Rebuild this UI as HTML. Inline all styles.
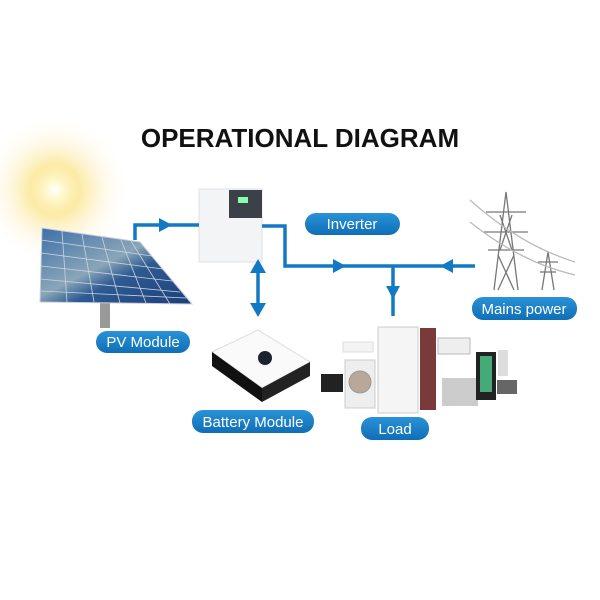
<!DOCTYPE html>
<html><head><meta charset="utf-8"><style>
html,body{margin:0;padding:0;background:#fff;width:600px;height:600px;overflow:hidden}
svg{display:block}
</style></head><body>
<svg width="600" height="600" viewBox="0 0 600 600" xmlns="http://www.w3.org/2000/svg">
<defs>
<radialGradient id="sun" cx="0.5" cy="0.5" r="0.5">
<stop offset="0" stop-color="#fff"/><stop offset="0.12" stop-color="#fff8d0"/>
<stop offset="0.35" stop-color="#fbe486" stop-opacity="0.75"/><stop offset="0.7" stop-color="#fdefc4" stop-opacity="0.35"/><stop offset="1" stop-color="#fff8e6" stop-opacity="0"/></radialGradient>
<linearGradient id="pill" x1="0" y1="0" x2="0" y2="1"><stop offset="0" stop-color="#2a92d8"/><stop offset="1" stop-color="#0f6fb6"/></linearGradient>
<linearGradient id="panel" x1="0" y1="0" x2="1" y2="1"><stop offset="0" stop-color="#3d6fa8"/><stop offset="0.45" stop-color="#8aa6b8"/><stop offset="0.6" stop-color="#2e5a92"/><stop offset="1" stop-color="#1d3f78"/></linearGradient>
</defs>
<rect width="600" height="600" fill="#fff"/>
<circle cx="55" cy="190" r="72" fill="url(#sun)"/>
<text x="300" y="147" text-anchor="middle" font-family="Liberation Sans, sans-serif" font-weight="bold" font-size="26" fill="#111">OPERATIONAL DIAGRAM</text>
<!-- solar panel -->
<rect x="100" y="300" width="10" height="28" fill="#999"/>
<polygon points="42,228 140,242 192,304 40,302" fill="url(#panel)" stroke="#ccd" stroke-width="1"/>
<g stroke="#c8d4e0" stroke-width="0.8" fill="none">
<line x1="41" y1="240" x2="152" y2="256"/><line x1="41" y1="253" x2="163" y2="269"/><line x1="41" y1="266" x2="172" y2="281"/><line x1="40" y1="279" x2="180" y2="292"/><line x1="40" y1="291" x2="186" y2="298"/>
<line x1="62" y1="231" x2="67" y2="302"/><line x1="82" y1="234" x2="94" y2="302"/><line x1="102" y1="237" x2="120" y2="303"/><line x1="121" y1="240" x2="146" y2="303"/><line x1="131" y1="241" x2="170" y2="304"/>
</g>
<!-- inverter -->
<rect x="199" y="189" width="63" height="73" fill="#f3f4f6" stroke="#dfe1e4"/>
<rect x="229" y="190" width="33" height="28" fill="#3c4048"/>
<rect x="238" y="197" width="10" height="6" fill="#8fa"/>
<!-- battery -->
<polygon points="212,352 258,330 310,362 262,388" fill="#fafafa" stroke="#ddd"/>
<polygon points="212,352 262,388 262,402 212,366" fill="#111"/>
<polygon points="262,388 310,362 310,376 262,402" fill="#222"/>
<circle cx="265" cy="358" r="7" fill="#1c2230"/>
<!-- load appliances -->
<rect x="321" y="374" width="22" height="18" fill="#222"/>
<rect x="345" y="360" width="30" height="48" fill="#eee" stroke="#ccc"/>
<circle cx="360" cy="382" r="11" fill="#b9a89a" stroke="#999"/>
<rect x="343" y="342" width="30" height="10" fill="#f4f4f4" stroke="#ddd"/>
<rect x="378" y="327" width="40" height="86" fill="#f5f5f5" stroke="#ccc"/>
<rect x="420" y="328" width="16" height="82" fill="#7a3a3a"/>
<rect x="438" y="338" width="32" height="16" fill="#eee" stroke="#bbb"/>
<rect x="442" y="378" width="36" height="28" fill="#ccc"/>
<rect x="476" y="352" width="20" height="48" fill="#222"/>
<rect x="480" y="356" width="12" height="36" fill="#4a7"/>
<rect x="498" y="350" width="10" height="26" fill="#ddd"/>
<rect x="497" y="380" width="20" height="14" fill="#666"/>
<!-- tower -->
<g stroke="#777" stroke-width="1.3" fill="none">
<polyline points="494,290 506,192 518,290"/><line x1="486" y1="212" x2="526" y2="212"/><line x1="484" y1="232" x2="528" y2="232"/><line x1="488" y1="250" x2="524" y2="250"/>
<line x1="498" y1="255" x2="514" y2="290"/><line x1="514" y1="255" x2="498" y2="290"/>
<line x1="500" y1="215" x2="512" y2="250"/><line x1="512" y1="215" x2="500" y2="250"/>
<polyline points="542,290 548,252 554,290"/><line x1="538" y1="262" x2="558" y2="262"/><line x1="540" y1="272" x2="556" y2="272"/>
<path d="M470,200 Q520,245 575,262" stroke="#bbb"/><path d="M470,222 Q520,262 575,275" stroke="#bbb"/>
</g>
<!-- connectors -->
<g stroke="#1279c4" stroke-width="3.5" fill="none">
<polyline points="135,240 135,225 199,225"/>
<polyline points="262,226 285,226 285,266 475,266"/>
<line x1="393" y1="266" x2="393" y2="316"/>
<line x1="258" y1="268" x2="258" y2="308"/>
</g>
<g fill="#1279c4">
<polygon points="159,218 172,225 159,232"/>
<polygon points="333,259 346,266 333,273"/>
<polygon points="453,259 440,266 453,273"/>
<polygon points="386,286 400,286 393,299"/>
<polygon points="250,273 266,273 258,259"/>
<polygon points="250,303 266,303 258,317"/>
</g>
<!-- labels -->
<g font-family="Liberation Sans, sans-serif" font-size="15" fill="#fff" text-anchor="middle">
<rect x="305" y="213" width="95" height="22" rx="11" fill="url(#pill)"/><text x="352" y="229">Inverter</text>
<rect x="472" y="297" width="105" height="23" rx="11" fill="url(#pill)"/><text x="524" y="314">Mains power</text>
<rect x="96" y="331" width="94" height="22" rx="11" fill="url(#pill)"/><text x="143" y="347">PV Module</text>
<rect x="192" y="410" width="122" height="23" rx="11" fill="url(#pill)"/><text x="253" y="427">Battery Module</text>
<rect x="361" y="417" width="68" height="23" rx="11" fill="url(#pill)"/><text x="395" y="434">Load</text>
</g>
</svg>
</body></html>
